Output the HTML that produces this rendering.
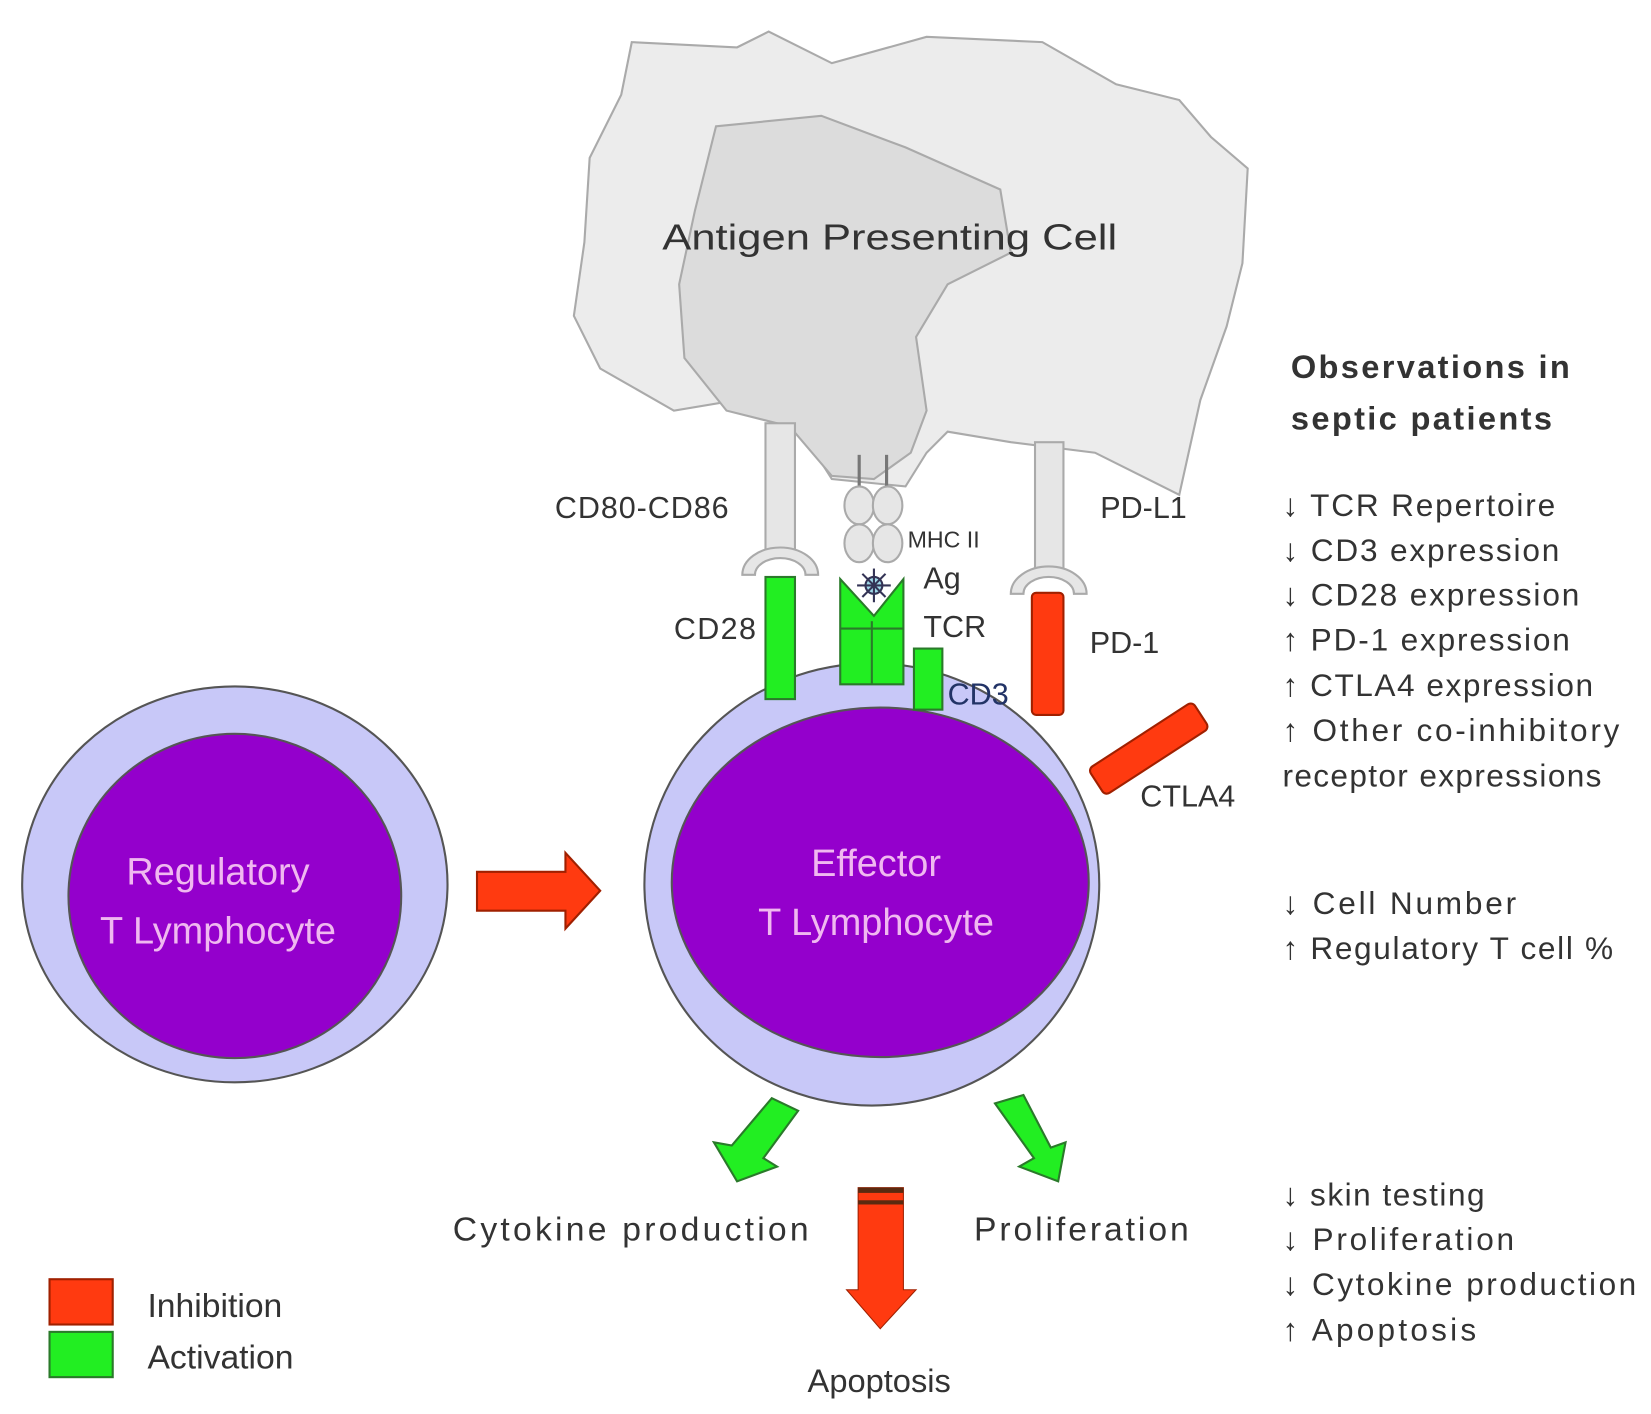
<!DOCTYPE html>
<html><head><style>html,body{margin:0;padding:0;background:#fff}svg{display:block}</style></head>
<body>
<svg width="1651" height="1414" viewBox="0 0 1568 1343" xmlns="http://www.w3.org/2000/svg" font-family="Liberation Sans, sans-serif">
<rect width="1568" height="1343" fill="#fff"/>
<!-- APC -->
<path d="M600,40 L700,45 L730,30 L790,60 L880,35 L990,40 L1060,80 L1120,95 L1150,130 L1185,160 L1180,250 L1165,310 L1140,380 L1120,470 L1040,430 L960,420 L900,410 L880,430 L860,462 L790,455 L755,400 L700,380 L640,390 L570,350 L545,300 L555,230 L560,150 L590,90 Z" fill="#ececec" stroke="#aaa" stroke-width="2"/>
<path d="M680,120 L780,110 L860,140 L950,180 L960,240 L900,270 L870,320 L880,390 L865,430 L830,455 L790,452 L750,405 L690,390 L650,340 L645,270 L660,200 Z" fill="#dcdcdc" stroke="#aaa" stroke-width="2"/>
<text x="845" y="237" font-size="34" fill="#333" text-anchor="middle" textLength="432" lengthAdjust="spacingAndGlyphs">Antigen Presenting Cell</text>
<!-- receptors APC -->
<rect x="727" y="402" width="28" height="122" fill="#e6e6e6" stroke="#aaa" stroke-width="2"/>
<path d="M705,546 A36,26 0 0 1 777,546 L765,546 A24,16 0 0 0 717,546 Z" fill="#e6e6e6" stroke="#aaa" stroke-width="2"/>
<rect x="983" y="420" width="27" height="125" fill="#e6e6e6" stroke="#aaa" stroke-width="2"/>
<path d="M960,564 A36,26 0 0 1 1032,564 L1020,564 A24,16 0 0 0 972,564 Z" fill="#e6e6e6" stroke="#aaa" stroke-width="2"/>
<line x1="816" y1="432" x2="816" y2="462" stroke="#777" stroke-width="3"/>
<line x1="842" y1="432" x2="842" y2="462" stroke="#777" stroke-width="3"/>
<ellipse cx="816" cy="480" rx="14" ry="18" fill="#e6e6e6" stroke="#aaa" stroke-width="2"/>
<ellipse cx="843" cy="480" rx="14" ry="18" fill="#e6e6e6" stroke="#aaa" stroke-width="2"/>
<ellipse cx="816" cy="516" rx="14" ry="18" fill="#e6e6e6" stroke="#aaa" stroke-width="2"/>
<ellipse cx="843" cy="516" rx="14" ry="18" fill="#e6e6e6" stroke="#aaa" stroke-width="2"/>
<!-- cells -->
<ellipse cx="223" cy="840" rx="202" ry="188" fill="#c8c8f8" stroke="#555" stroke-width="2"/>
<ellipse cx="223" cy="851" rx="158" ry="154" fill="#9400cc" stroke="#555" stroke-width="2"/>
<ellipse cx="828" cy="840" rx="216" ry="210" fill="#c8c8f8" stroke="#555" stroke-width="2"/>
<ellipse cx="836" cy="838" rx="198" ry="166" fill="#9400cc" stroke="#555" stroke-width="2"/>
<text font-size="36" fill="#f0b8f0" text-anchor="middle"><tspan x="207" y="840">Regulatory</tspan><tspan x="207" y="896">T Lymphocyte</tspan></text>
<text font-size="36" fill="#f0b8f0" text-anchor="middle"><tspan x="832" y="832">Effector</tspan><tspan x="832" y="888">T Lymphocyte</tspan></text>
<!-- T cell receptors -->
<rect x="727" y="548" width="28" height="116" fill="#22ee22" stroke="#2a7a2a" stroke-width="2"/>
<path d="M798,550 L830,585 L858,550 L858,650 L798,650 Z" fill="#22ee22" stroke="#2a7a2a" stroke-width="2"/>
<line x1="828" y1="590" x2="828" y2="650" stroke="#2a7a2a" stroke-width="2"/>
<line x1="798" y1="597" x2="858" y2="597" stroke="#2a7a2a" stroke-width="2"/>
<circle cx="830" cy="556" r="8" fill="#9fd8e8" stroke="#335" stroke-width="2"/>
<g stroke="#335" stroke-width="2"><line x1="830" y1="540" x2="830" y2="572"/><line x1="814" y1="556" x2="846" y2="556"/><line x1="819" y1="545" x2="841" y2="567"/><line x1="841" y1="545" x2="819" y2="567"/></g>
<rect x="868" y="616" width="27" height="58" fill="#22ee22" stroke="#2a7a2a" stroke-width="2"/>
<rect x="980" y="563" width="30" height="116" rx="4" fill="#ff3a10" stroke="#a02000" stroke-width="2"/>
<rect x="1032" y="696" width="118" height="30" rx="5" fill="#ff3a10" stroke="#a02000" stroke-width="2" transform="rotate(-33 1091 711)"/>
<!-- arrows -->
<path d="M453,828 L537,828 L537,810 L570,846 L537,882 L537,865 L453,865 Z" fill="#ff3a10" stroke="#a02000" stroke-width="2"/>
<path d="M733,1043 L758,1055 L725,1100 L738,1108 L700,1122 L678,1085 L695,1088 Z" fill="#22ee22" stroke="#2a7a2a" stroke-width="2"/>
<path d="M945,1048 L972,1040 L998,1090 L1012,1085 L1005,1122 L968,1108 L982,1100 Z" fill="#22ee22" stroke="#2a7a2a" stroke-width="2"/>
<path d="M815,1128 L858,1128 L858,1225 L870,1225 L836,1262 L804,1225 L815,1225 Z" fill="#ff3a10" stroke="#a02000" stroke-width="1"/>
<rect x="815" y="1128" width="43" height="5" fill="#5a2a10"/><rect x="815" y="1140" width="43" height="4" fill="#5a2a10"/>
<!-- labels -->
<g fill="#333" font-size="29" lengthAdjust="spacingAndGlyphs">
<text x="527" y="492" textLength="165">CD80-CD86</text>
<text x="862" y="520" font-size="22">MHC II</text>
<text x="877" y="559">Ag</text>
<text x="877" y="605">TCR</text>
<text x="640" y="607" textLength="78">CD28</text>
<text x="900" y="669" fill="#223366">CD3</text>
<text x="1045" y="492">PD-L1</text>
<text x="1035" y="620">PD-1</text>
<text x="1083" y="766">CTLA4</text>
<text x="430" y="1178" font-size="32" textLength="338">Cytokine production</text>
<text x="925" y="1178" font-size="32" textLength="204">Proliferation</text>
<text x="835" y="1322" font-size="31" text-anchor="middle">Apoptosis</text>
<text x="140" y="1251" font-size="32">Inhibition</text>
<text x="140" y="1300" font-size="32">Activation</text>
</g>
<rect x="47" y="1215" width="60" height="43" fill="#ff3a10" stroke="#a02000" stroke-width="2"/>
<rect x="47" y="1265" width="60" height="43" fill="#22ee22" stroke="#2a7a2a" stroke-width="2"/>
<!-- right text -->
<g fill="#333" font-size="30">
<text x="1226" y="359" font-weight="bold" font-size="31" textLength="265">Observations in</text>
<text x="1226" y="408" font-weight="bold" font-size="31" textLength="248">septic patients</text>
<text x="1218" y="490" textLength="259">↓ TCR Repertoire</text>
<text x="1218" y="533" textLength="263">↓ CD3 expression</text>
<text x="1218" y="575" textLength="282">↓ CD28 expression</text>
<text x="1218" y="618" textLength="273">↑ PD-1 expression</text>
<text x="1218" y="661" textLength="295">↑ CTLA4 expression</text>
<text x="1218" y="704" textLength="320">↑ Other co-inhibitory</text>
<text x="1218" y="747" textLength="303">receptor expressions</text>
<text x="1218" y="868" textLength="222">↓ Cell Number</text>
<text x="1218" y="911" textLength="314">↑ Regulatory T cell %</text>
<text x="1218" y="1145" textLength="192">↓ skin testing</text>
<text x="1218" y="1187" textLength="220">↓ Proliferation</text>
<text x="1218" y="1230" textLength="336">↓ Cytokine production</text>
<text x="1218" y="1273" textLength="184">↑ Apoptosis</text>
</g>
</svg>
</body></html>
